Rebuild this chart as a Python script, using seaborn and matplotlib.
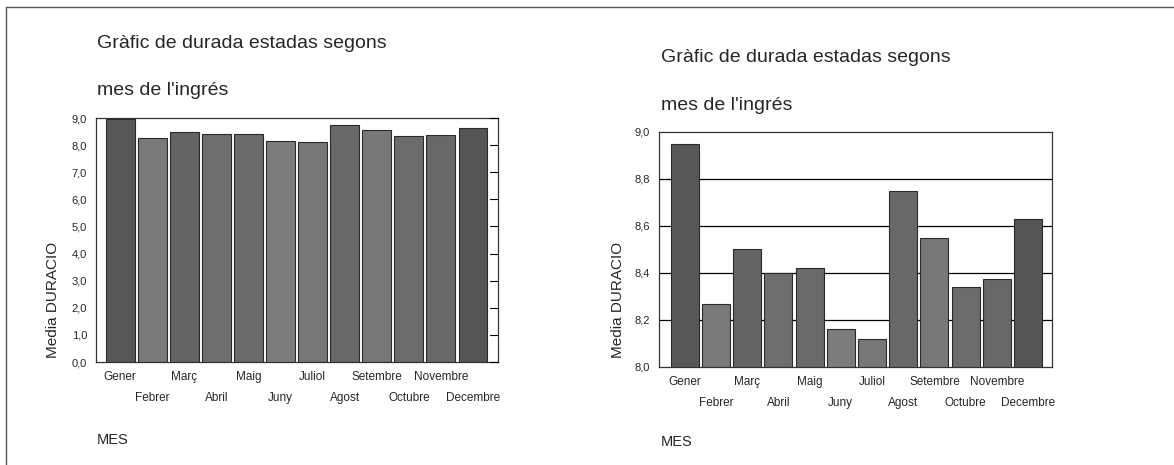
import matplotlib
matplotlib.use("Agg")
import matplotlib.pyplot as plt
import numpy as np
import pandas as pd
import seaborn as sns
from matplotlib.lines import Line2D

sns.set_style("white")
plt.rcParams["font.family"] = ["Liberation Sans", "DejaVu Sans"]

mesos = ["Gener", "Febrer", "Març", "Abril", "Maig", "Juny",
         "Juliol", "Agost", "Setembre", "Octubre", "Novembre", "Decembre"]
durada = [8.95, 8.27, 8.50, 8.40, 8.42, 8.16, 8.12, 8.75, 8.55, 8.34, 8.375, 8.63]

titol = ["Gràfic de durada estadas segons", "mes de l'ingrés"]
ylabel = "Media DURACIO"
xlabel = "MES"

grisos = ["#575757", "#7a7a7a", "#646464", "#6e6e6e", "#6a6a6a", "#7c7c7c",
          "#777777", "#686868", "#787878", "#6c6c6c", "#686868", "#555555"]

df = pd.DataFrame({"MES": mesos, "DURACIO": durada})

fig = plt.figure(figsize=(11.74, 4.65), dpi=100)

# left: full scale 0-9, right: zoomed 8-9
panels = [
    dict(rect=[0.0818, 0.2215, 0.3424, 0.5247], ylim=(0, 9), ticks=np.arange(0, 9.01, 1.0),
         xlim=(-0.75, 11.78), grid=False, tx=97, ty=43, ylx=53, mx=97, my=440),
    dict(rect=[0.5613, 0.2108, 0.3348, 0.5054], ylim=(8.0, 9.0), ticks=np.arange(8.0, 9.01, 0.2),
         xlim=(-0.83, 11.77), grid=True, tx=661, ty=58, ylx=618, mx=661, my=442),
]

W, H = 1174, 465
for p in panels:
    ax = fig.add_axes(p["rect"])
    sns.barplot(data=df, x="MES", y="DURACIO", hue="MES", palette=grisos, legend=False,
                width=0.9, edgecolor="#2a2a2a", linewidth=0.8, ax=ax, zorder=2)
    ax.set_ylim(*p["ylim"])
    ax.set_xlim(*p["xlim"])
    ax.set_yticks(p["ticks"])
    ax.set_yticklabels([f"{t:.1f}".replace(".", ",") for t in p["ticks"]], fontsize=8)
    ax.set_xticks(range(len(mesos)))
    ax.set_xticklabels(mesos, fontsize=8.5)
    # alternate labels on a second row
    hrow = 21 / (p["rect"][3] * H)
    for i, lbl in enumerate(ax.get_xticklabels()):
        if i % 2 == 1:
            lbl.set_y(-hrow)
    ax.tick_params(axis="both", length=3, width=0.8, color="black", direction="out")
    if p["grid"]:
        for t in p["ticks"][1:-1]:
            ax.axhline(t, color="black", lw=0.9, zorder=1)
    else:
        for t in p["ticks"]:
            ax.plot([1, 0.98], [t, t], transform=ax.get_yaxis_transform(),
                    color="black", lw=0.8, clip_on=False, zorder=3)
    for s in ax.spines.values():
        s.set_color("#333333")
        s.set_linewidth(0.9)
    ax.set_xlabel("")
    ax.set_ylabel("")
    fig.text(p["tx"] / W, 1 - p["ty"] / H, titol[0], fontsize=14, va="center", ha="left")
    fig.text(p["tx"] / W, 1 - (p["ty"] + 47) / H, titol[1], fontsize=14, va="center", ha="left")
    fig.text(p["ylx"] / W, 1 - 300 / H, ylabel, fontsize=11, rotation=90, va="center", ha="center")
    fig.text(p["mx"] / W, 1 - p["my"] / H, xlabel, fontsize=10.5, va="center", ha="left")

# page frame
fig.add_artist(Line2D([6 / W, 6 / W], [0, 1 - 7 / H], color="#555555", lw=1.0))
fig.add_artist(Line2D([6 / W, 1], [1 - 7 / H, 1 - 7 / H], color="#555555", lw=1.0))

fig.savefig("out.png", dpi=100)
